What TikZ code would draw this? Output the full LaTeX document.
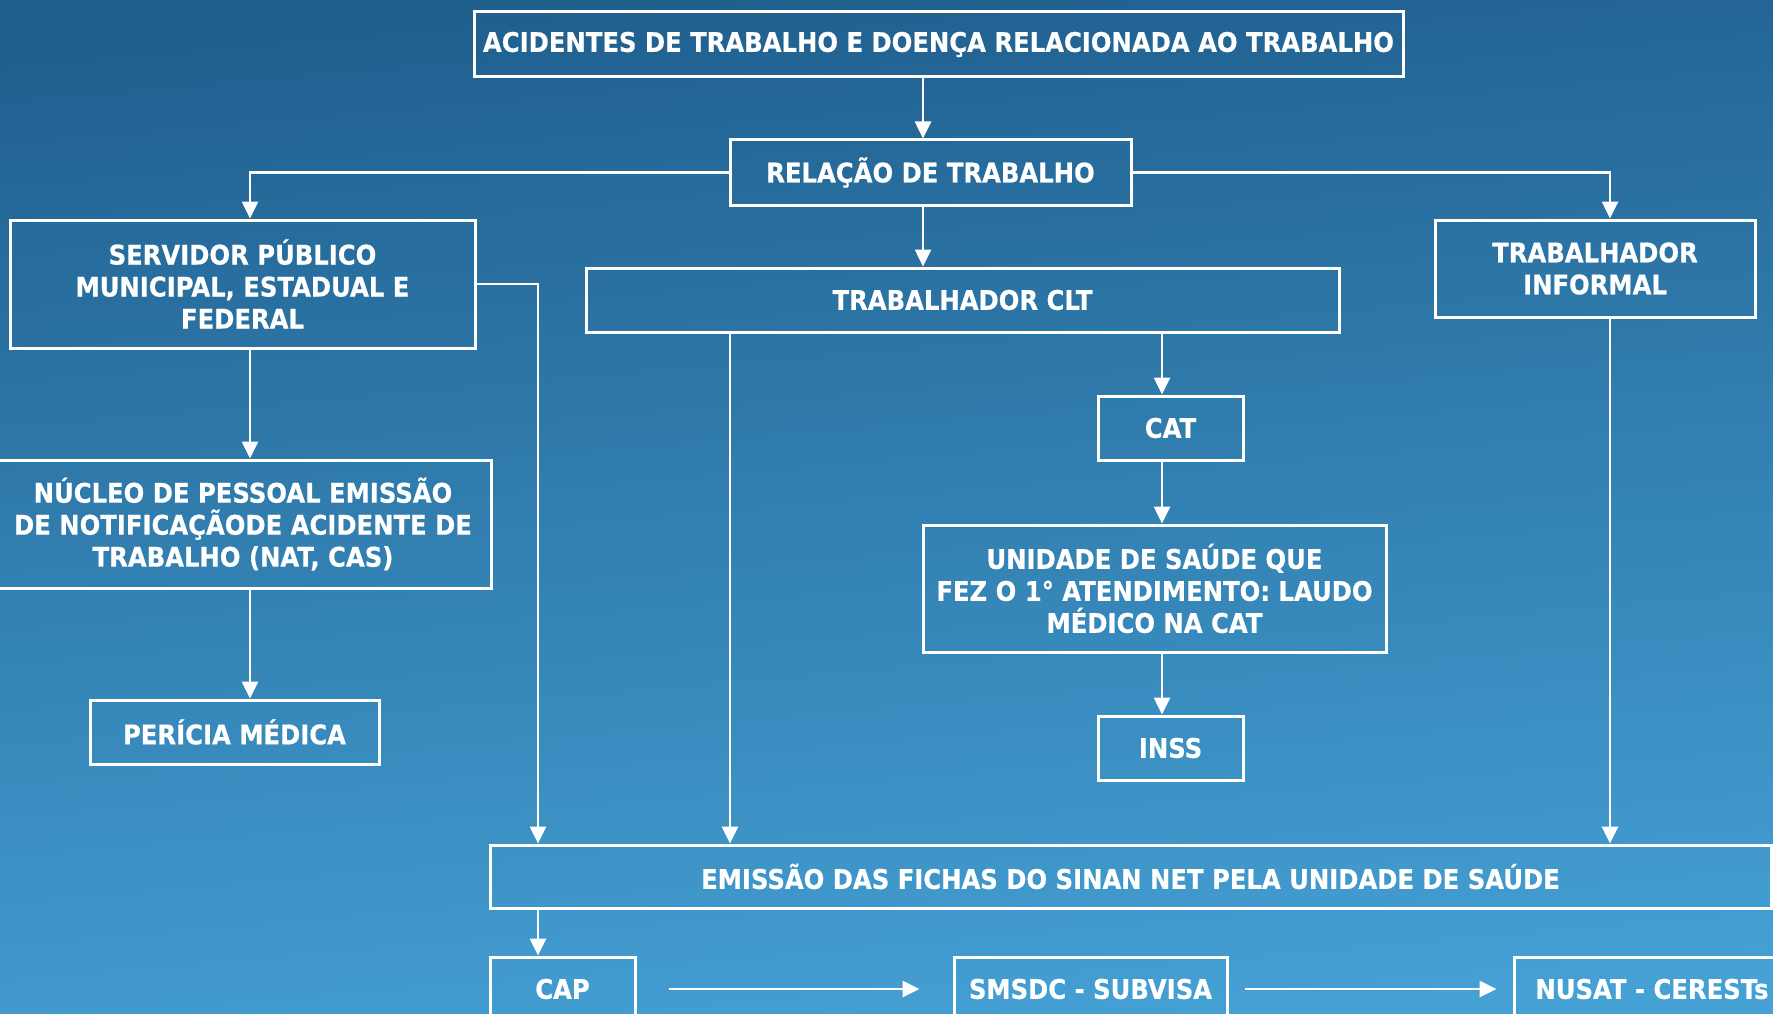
\documentclass[tikz,border=0pt]{standalone}
\usepackage{fontspec}
\setmainfont{DejaVu Sans}[FakeStretch=0.9, FakeBold=0.6]
\usetikzlibrary{positioning, arrows.meta, calc}
\definecolor{bgTop}{HTML}{1F5F8E}
\definecolor{bgMid}{HTML}{3382B5}
\definecolor{bgBot}{HTML}{45A0D4}

\tikzset{
  caixa/.style={draw=white, line width=3pt, inner sep=0pt, align=center,
    text=white, font=\fontsize{27}{32}\selectfont\bfseries},
  seta/.style={draw=white, line width=2.6pt, -{Triangle[width=16pt,length=17pt]}},
}

\begin{document}
\begin{tikzpicture}[x=1pt, y=-1pt]
  % fundo
  \shade[top color=bgTop, middle color=bgMid, bottom color=bgBot, shading angle=5]
    (0,0) rectangle (1773,1014);
  \useasboundingbox (0,0) rectangle (1773,1014);

  % caixas
  \node[caixa, minimum width=929pt, minimum height=65pt] (acid) at (938.5,44.5)
    {ACIDENTES DE TRABALHO E DOENÇA RELACIONADA AO TRABALHO};
  \node[caixa, minimum width=401pt, minimum height=65pt] (rel) at (930.5,172.5)
    {RELAÇÃO DE TRABALHO};
  \node[caixa, minimum width=465pt, minimum height=128pt] (serv) at (242.5,284)
    {SERVIDOR PÚBLICO\\MUNICIPAL, ESTADUAL E\\FEDERAL};
  \node[caixa, minimum width=753pt, minimum height=64pt] (clt) at (962.5,300)
    {TRABALHADOR CLT};
  \node[caixa, minimum width=320pt, minimum height=97pt] (inf) at (1595,268.5)
    {TRABALHADOR\\INFORMAL};
  \node[caixa, minimum width=145pt, minimum height=64pt] (cat) at (1170.5,428)
    {CAT};
  \node[caixa, minimum width=463pt, minimum height=127pt] (uni) at (1154.5,588.5)
    {UNIDADE DE SAÚDE QUE\\FEZ O 1° ATENDIMENTO: LAUDO\\MÉDICO NA CAT};
  \node[caixa, minimum width=145pt, minimum height=64pt] (inss) at (1170.5,748)
    {INSS};
  \node[caixa, minimum width=496pt, minimum height=128pt] (nuc) at (243,524)
    {NÚCLEO DE PESSOAL EMISSÃO\\DE NOTIFICAÇÃODE ACIDENTE DE\\TRABALHO (NAT, CAS)};
  \node[caixa, minimum width=289pt, minimum height=64pt] (per) at (234.5,732)
    {PERÍCIA MÉDICA};
  \node[caixa, minimum width=1281pt, minimum height=63pt] (emi) at (1130.5,876.5)
    {EMISSÃO DAS FICHAS DO SINAN NET PELA UNIDADE DE SAÚDE};
  \node[caixa, minimum width=145pt, minimum height=64pt] (cap) at (562.5,989)
    {CAP};
  \node[caixa, minimum width=273pt, minimum height=64pt] (smsdc) at (1090.5,989)
    {SMSDC - SUBVISA};
  \node[caixa, minimum width=276pt, minimum height=64pt] (nusat) at (1652,989)
    {NUSAT - CERESTs};

  % colunas das setas
  \coordinate (xa) at (923,0);
  \coordinate (xs) at (250,0);
  \coordinate (xe) at (538,0);
  \coordinate (xc) at (730,0);
  \coordinate (xt) at (1162,0);
  \coordinate (xi) at (1610,0);

  % ligacoes
  \draw[seta] (acid.south -| xa) -- (rel.north -| xa);
  \draw[seta] (rel.south -| xa) -- (clt.north -| xa);
  \draw[seta] (rel.west) -| (serv.north -| xs);
  \draw[seta] (rel.east) -| (inf.north -| xi);
  \draw[seta] (serv.south -| xs) -- (nuc.north -| xs);
  \draw[seta] (nuc.south -| xs) -- (per.north -| xs);
  \draw[seta] (serv.east) -| (emi.north -| xe);
  \draw[seta] (clt.south -| xc) -- (emi.north -| xc);
  \draw[seta] (clt.south -| xt) -- (cat.north -| xt);
  \draw[seta] (cat.south -| xt) -- (uni.north -| xt);
  \draw[seta] (uni.south -| xt) -- (inss.north -| xt);
  \draw[seta] (inf.south -| xi) -- (emi.north -| xi);
  \draw[seta] (emi.south -| xe) -- (cap.north -| xe);
  \draw[seta, shorten <=32pt, shorten >=33pt] (cap.east) -- (smsdc.west);
  \draw[seta, shorten <=16pt, shorten >=16pt] (smsdc.east) -- (nusat.west);
\end{tikzpicture}
\end{document}
